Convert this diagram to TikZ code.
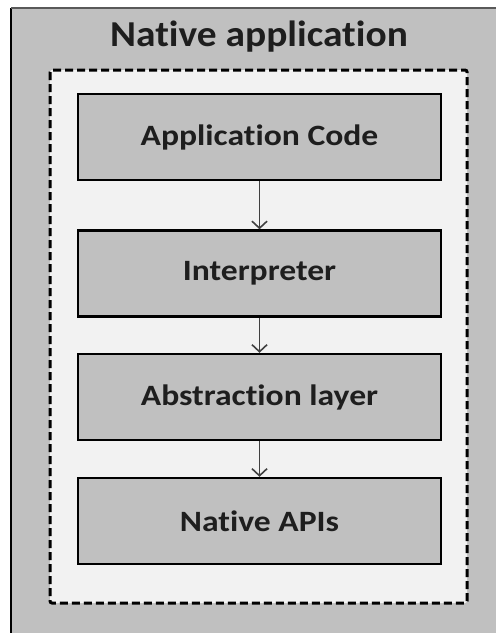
\documentclass[tikz,border=0pt]{standalone}
\usepackage{fontspec}
\setmainfont[Ligatures=NoCommon]{Carlito}
\newfontfamily\titlefont[Ligatures=NoCommon, FakeStretch=1.08]{Carlito}
\newfontfamily\boxfont[Ligatures=NoCommon, FakeStretch=1.14]{Carlito}
\usetikzlibrary{arrows.meta}
\definecolor{boxgray}{HTML}{C0C0C0}
\definecolor{panel}{HTML}{F2F2F2}
\definecolor{ink}{HTML}{1E1E1E}
\tikzset{
  layer/.style={draw=black, line width=2.4pt, fill=boxgray, minimum width=363pt, minimum height=86pt, inner sep=0pt,
    font=\boxfont\fontsize{29.5}{34}\selectfont\bfseries, text=ink},
  flow/.style={draw=black!75, line width=1.6pt, -{Straight Barb[length=7pt,width=15pt,line width=1.6pt]}}
}
\begin{document}
\begin{tikzpicture}[x=1pt,y=-1pt]
\useasboundingbox (0,0) rectangle (496,633);
\fill[boxgray] (11,8) rectangle (496,633);
\draw[line width=2.4pt, black] (11,633) -- (11,8);
\draw[line width=2.4pt, black!65] (11,8) -- (496,8);
\node[font=\titlefont\fontsize{36.5}{40}\selectfont\bfseries, text=ink] (title) at (259,37) {Native application};
\draw[fill=panel, line width=3pt, dash pattern=on 8pt off 4pt, rounded corners=2pt] (50,70) rectangle (467,603);
\node[layer] (code) at (259.5,137) {Application Code};
\node[layer] (interp) at (259.5,273.5) {Interpreter};
\node[layer] (abs) at (259.5,397) {Abstraction layer};
\node[layer] (apis) at (259.5,521) {Native APIs};
\draw[flow] (code.south) -- (interp.north);
\draw[flow] (interp.south) -- (abs.north);
\draw[flow] (abs.south) -- (apis.north);
\end{tikzpicture}
\end{document}
